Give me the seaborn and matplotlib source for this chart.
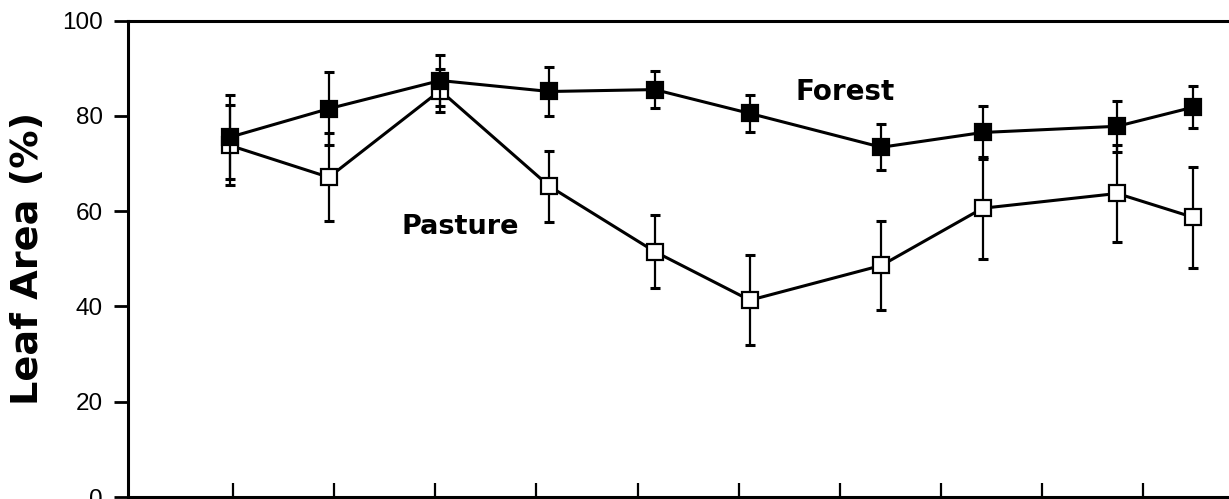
import matplotlib
matplotlib.use('Agg')
import matplotlib.pyplot as plt
import seaborn as sns
import pandas as pd

# %%
# values (x = sampling time, ticks at 1..10)
sample_time = [0.97, 1.95, 3.05, 4.13, 5.17, 6.11, 7.41, 8.41, 9.74, 10.49]
forest_mean = [75.5, 81.5, 87.4, 85.1, 85.5, 80.5, 73.4, 76.5, 77.8, 81.8]
forest_err = [8.8, 7.6, 5.3, 5.1, 3.8, 3.8, 4.8, 5.6, 5.4, 4.4]
pasture_mean = [73.8, 67.1, 85.3, 65.2, 51.5, 41.3, 48.6, 60.6, 63.7, 58.7]
pasture_err = [8.4, 9.2, 4.6, 7.4, 7.7, 9.5, 9.3, 10.7, 10.2, 10.6]
x_ticks = [1, 2, 3, 4, 5, 6, 7, 8, 9, 10]
y_ticks = [0, 20, 40, 60, 80, 100]

df = pd.DataFrame({'time': sample_time,
                   'forest': forest_mean, 'forest_err': forest_err,
                   'pasture': pasture_mean, 'pasture_err': pasture_err})

# %%
sns.set_style('ticks')
plt.rcParams['font.family'] = ['Liberation Sans', 'DejaVu Sans']
plt.rcParams.update({'text.color': 'black', 'axes.labelcolor': 'black',
                     'axes.edgecolor': 'black', 'xtick.color': 'black',
                     'ytick.color': 'black'})

fig = plt.figure(figsize=(12.29, 4.99), dpi=100)
ax = fig.add_axes([128 / 1229, 2 / 499, 1101 / 1229, 476.5 / 499])

# pasture first so the forest squares sit on top
ax.errorbar(df['time'], df['pasture'], yerr=df['pasture_err'], fmt='none',
            ecolor='black', elinewidth=1.6, capsize=3.5, capthick=2.2, zorder=2)
sns.lineplot(data=df, x='time', y='pasture', ax=ax, color='black', linewidth=2.2,
             marker='s', markersize=12, markerfacecolor='white',
             markeredgecolor='black', markeredgewidth=1.6, zorder=3)

ax.errorbar(df['time'], df['forest'], yerr=df['forest_err'], fmt='none',
            ecolor='black', elinewidth=1.6, capsize=3.5, capthick=2.2, zorder=4)
sns.lineplot(data=df, x='time', y='forest', ax=ax, color='black', linewidth=2.2,
             marker='s', markersize=12, markerfacecolor='black',
             markeredgecolor='black', markeredgewidth=1.6, zorder=5)

ax.text(7.05, 84.9, 'Forest', family='DejaVu Sans', fontweight='bold',
        fontsize=20, ha='center', va='center')
ax.text(3.25, 56.6, 'Pasture', family='DejaVu Sans', fontweight='bold',
        fontsize=19.5, ha='center', va='center')

ax.set_xlim(-0.035, 10.845)
ax.set_ylim(0, 100)
ax.set_xticks(x_ticks)
ax.set_xticklabels([])
ax.set_yticks(y_ticks)
ax.tick_params(axis='y', direction='out', length=10, width=2, labelsize=17.5, pad=8)
ax.tick_params(axis='x', direction='in', length=10, width=1.6)
ax.set_xlabel('')
ax.set_ylabel('Leaf Area (%)', family='DejaVu Sans', fontweight='bold',
              fontsize=27.5, labelpad=12)

ax.spines['right'].set_visible(False)
for side in ['left', 'top', 'bottom']:
    ax.spines[side].set_linewidth(2.2)

fig.savefig('out.png', dpi=100)
print("saved out.png")
